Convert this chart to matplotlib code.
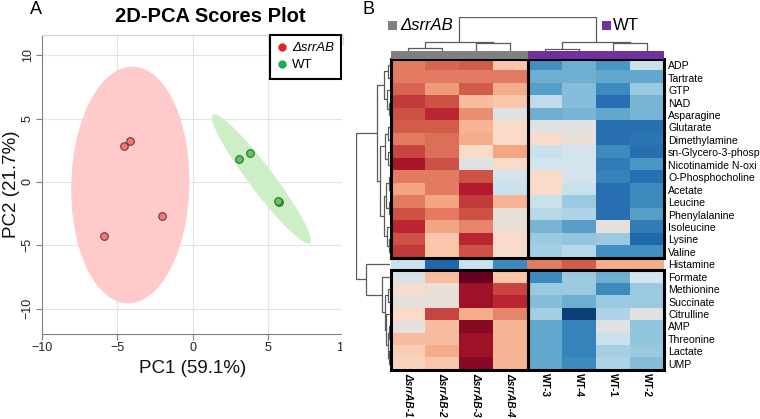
import numpy as np
import matplotlib
matplotlib.use('Agg')
import matplotlib.pyplot as plt
from matplotlib.colors import LinearSegmentedColormap
from matplotlib.patches import Rectangle
from matplotlib.lines import Line2D

plt.rcParams['font.family'] = ['Liberation Sans', 'DejaVu Sans']

# ---- PCA scores ----
mut_pc1 = [-4.53, -4.13, -2.0, -5.87]
mut_pc2 = [2.83, 3.2, -2.68, -4.3]
wt_pc1 = [3.07, 3.8, 5.73, 5.68]
wt_pc2 = [1.81, 2.28, -1.6, -1.5]

# ---- heatmap ----
samples = ['\u0394srrAB-1', '\u0394srrAB-2', '\u0394srrAB-3', '\u0394srrAB-4',
           'WT-3', 'WT-4', 'WT-1', 'WT-2']
metabolites = ['ADP', 'Tartrate', 'GTP', 'NAD', 'Asparagine', 'Glutarate',
               'Dimethylamine', 'sn-Glycero-3-phosp', 'Nicotinamide N-oxi',
               'O-Phosphocholine', 'Acetate', 'Leucine', 'Phenylalanine',
               'Isoleucine', 'Lysine', 'Valine', 'Histamine', 'Formate',
               'Methionine', 'Succinate', 'Citrulline', 'AMP', 'Threonine',
               'Lactate', 'UMP']
zscores = [
    [1.4, 1.6, 1.7, 0.6, -1.7, -1.3, -1.6, -0.4],
    [1.4, 1.4, 1.4, 1.4, -1.3, -1.3, -1.4, -1.4],
    [1.6, 1.1, 1.7, 0.9, -1.5, -1.1, -1.8, -0.9],
    [2.0, 1.8, 0.7, 0.6, -0.5, -1.1, -2.2, -1.2],
    [1.8, 2.2, 1.2, -0.1, -1.3, -1.2, -1.4, -1.2],
    [1.7, 1.7, 0.8, 0.3, -0.1, -0.1, -2.2, -2.2],
    [1.4, 1.5, 0.9, 0.3, 0.3, 0.05, -2.2, -2.1],
    [1.9, 1.5, 0.3, 1.0, -0.4, -0.3, -1.8, -2.2],
    [2.4, 1.8, -0.1, 0.3, -0.3, -0.3, -2.0, -1.6],
    [1.4, 1.4, 1.8, -0.3, 0.3, -0.3, -1.9, -2.2],
    [1.0, 1.4, 2.3, -0.4, 0.3, -0.4, -2.2, -1.8],
    [1.4, 1.0, 2.0, 0.8, -0.4, -0.9, -2.2, -1.8],
    [1.8, 1.4, 1.8, 0.0, -0.6, -0.7, -2.2, -1.5],
    [2.2, 1.0, 1.3, 0.05, -1.2, -1.5, 0.0, -2.0],
    [1.8, 0.6, 2.2, 0.3, -0.9, -1.0, -0.9, -2.3],
    [2.0, 0.6, 1.8, 0.2, -0.8, -0.6, -1.7, -1.7],
    [-0.4, -2.3, -0.4, -1.8, 1.4, 1.7, 0.9, 0.9],
    [-0.2, 0.7, 3.0, 0.6, -1.8, -0.9, -1.3, -0.3],
    [0.2, 0.05, 2.5, 1.9, -0.9, -0.9, -1.8, -0.9],
    [0.0, 0.0, 2.5, 2.2, -1.1, -1.3, -0.9, -0.9],
    [0.3, 1.9, 0.9, 1.3, -0.8, -2.8, -0.7, -0.1],
    [0.0, 0.7, 2.7, 0.8, -1.4, -1.9, -0.1, -1.0],
    [0.7, 0.7, 2.5, 0.8, -1.4, -1.9, -0.4, -1.0],
    [0.5, 0.9, 2.5, 0.8, -1.4, -1.9, -0.8, -0.9],
    [0.4, 0.6, 2.7, 0.8, -1.4, -1.8, -0.7, -1.1],
]

# dendrograms as (left, right, merge height)
row_tree = ((((0, 1, 2.5), (2, (3, 4, 1.5), 3.5), 6),
             (((5, 6, 2), (7, 8, 2), 5),
              (((9, 10, 1.5), (11, 12, 1.5), 4), (13, (14, 15, 1.5), 3), 6), 10), 13),
            (16, (17, ((18, 19, 2), (20, ((21, 22, 1), (23, 24, 1), 2.5), 4), 5.5), 8), 24),
            34)
col_tree = (((0, 1, 3), (2, 3, 8), 9), ((4, 5, 2), (6, 7, 8), 9), 34)

W, H = 760, 419
fig = plt.figure(figsize=(W / 100, H / 100), dpi=100)


def px_axes(x0, y0, x1, y1, z=0):
    a = fig.add_axes([x0 / W, 1 - y1 / H, (x1 - x0) / W, (y1 - y0) / H])
    a.set_zorder(z)
    return a


def conf_ellipse(x, y, n=200):
    x = np.asarray(x); y = np.asarray(y)
    vals, vecs = np.linalg.eigh(np.cov(x, y))
    t = np.linspace(0, 2 * np.pi, n)
    circ = np.vstack([np.cos(t), np.sin(t)])
    pts = vecs @ (np.sqrt(vals * 5.991)[:, None] * circ)
    return pts[0] + x.mean(), pts[1] + y.mean()


# ---------------- panel A ----------------
ax = px_axes(42, 35, 343, 334)
ex, ey = conf_ellipse(mut_pc1, mut_pc2)
ax.fill(ex, ey, color='#FFCACA', lw=0, zorder=1)
ex, ey = conf_ellipse(wt_pc1, wt_pc2)
ax.fill(ex, ey, color='#CDEFC6', lw=0, zorder=1)
ax.scatter(mut_pc1, mut_pc2, s=30, c='#E97A7A', edgecolors='#7a3535', linewidths=0.8, zorder=3)
ax.scatter(wt_pc1, wt_pc2, s=30, c='#5DC65D', edgecolors='#2d6a2d', linewidths=0.8, zorder=3)
ax.set_xlim(-10, 10)
ax.set_ylim(-12, 11.6)
ticks = [-10, -5, 0, 5, 10]
ax.set_xticks(ticks)
ax.set_yticks(ticks)
ax.grid(True, color='#E3E3E3', lw=0.8, zorder=0)
ax.set_axisbelow(True)
for s in ['left', 'bottom']:
    ax.spines[s].set_color('#808080')
for s in ['top', 'right']:
    ax.spines[s].set_color('#D5D5D5')
ax.tick_params(colors='#808080', labelcolor='#222222', labelsize=9, length=4, pad=2)
for lab in ax.get_yticklabels():
    lab.set_rotation(90)
    lab.set_va('center')
ax.set_xlabel('PC1 (59.1%)', fontsize=13.5, color='#111111', labelpad=4)
ax.set_ylabel('PC2 (21.7%)', fontsize=13.5, color='#111111', labelpad=1)
handles = [Line2D([], [], ls='', marker='o', ms=6, mfc='#EE1C25', mec='none'),
           Line2D([], [], ls='', marker='o', ms=6, mfc='#1AAE50', mec='none')]
leg = ax.legend(handles, ['\u0394srrAB', 'WT'], loc='upper right', bbox_to_anchor=(0.995, 1.0),
                borderaxespad=0, fontsize=9.5, handlelength=0.7, handletextpad=0.4,
                borderpad=0.55, labelspacing=0.35, fancybox=False, framealpha=1)
leg.get_frame().set_edgecolor('black')
leg.get_frame().set_linewidth(1.5)
leg.get_texts()[0].set_style('italic')
fig.text(210 / W, 1 - 17 / H, '2D-PCA Scores Plot', ha='center', va='center',
         fontsize=14.5, fontweight='bold')
fig.text(36 / W, 1 - 9 / H, 'A', ha='center', va='center', fontsize=13)
fig.text(368 / W, 1 - 9 / H, 'B', ha='center', va='center', fontsize=13)

# ---------------- panel B ----------------
# panel B sits over the right edge of panel A
fig.add_artist(Rectangle((342 / W, 0), 1 - 342 / W, 1 - 45 / H, transform=fig.transFigure,
                         fc='white', ec='none', zorder=0.5))

rdbu = ['#053061', '#2166AC', '#4393C3', '#92C5DE', '#D1E5F0',
        '#FDDBC7', '#F4A582', '#D6604D', '#B2182B', '#67001F']
cmap = LinearSegmentedColormap.from_list('rdbu10', rdbu)
vals = np.array(zscores)
nrow, ncol = vals.shape

axh = px_axes(391, 59, 664, 370, z=1)
axh.imshow(vals, cmap=cmap, vmin=-3, vmax=3, aspect='auto', interpolation='nearest',
           extent=(0, ncol, nrow, 0))
axh.set_xlim(0, ncol)
axh.set_ylim(nrow, 0)
for s in axh.spines.values():
    s.set_visible(False)
axh.set_xticks(np.arange(ncol) + 0.5)
axh.set_xticklabels(samples, rotation=-90, fontsize=7.2, fontweight='bold', va='top')
for lab in axh.get_xticklabels():
    if lab.get_text().startswith('\u0394'):
        lab.set_style('italic')
axh.yaxis.tick_right()
axh.set_yticks(np.arange(nrow) + 0.5)
axh.set_yticklabels(metabolites, fontsize=7.6)
axh.tick_params(axis='y', length=0, pad=3)
axh.tick_params(axis='x', length=0, pad=2)

n_mut = sum(1 for s in samples if s.startswith('\u0394'))
hist = metabolites.index('Histamine')
for r0, r1 in [(0, hist), (hist + 1, nrow)]:
    for c0, c1 in [(0, n_mut), (n_mut, ncol)]:
        axh.add_patch(Rectangle((c0, r0), c1 - c0, r1 - r0, fc='none', ec='black',
                                lw=2.2, clip_on=False, zorder=4))

# group colour bar
axb = px_axes(391, 51, 664, 59, z=1)
group_cols = ['#808080' if s.startswith('\u0394') else '#7030A0' for s in samples]
for i, c in enumerate(group_cols):
    axb.add_patch(Rectangle((i, 0), 1, 1, fc=c, ec='none'))
axb.set_xlim(0, ncol)
axb.set_ylim(0, 1)
axb.axis('off')


def draw_tree(node, ax, horizontal):
    # returns (leaf-axis position, height)
    if isinstance(node, int):
        return node + 0.5, 0
    left, right, h = node
    p1, h1 = draw_tree(left, ax, horizontal)
    p2, h2 = draw_tree(right, ax, horizontal)
    a = [h1, h, h, h2]
    b = [p1, p1, p2, p2]
    if horizontal:
        ax.plot(b, a, color='#5a5a5a', lw=0.9, solid_capstyle='butt')
    else:
        ax.plot(a, b, color='#5a5a5a', lw=0.9, solid_capstyle='butt')
    return (p1 + p2) / 2, h


axt = px_axes(391, 17, 664, 51, z=1)
draw_tree(col_tree, axt, True)
axt.set_xlim(0, ncol)
axt.set_ylim(0, 34)
axt.axis('off')

axr = px_axes(356, 59, 390, 370, z=1)
draw_tree(row_tree, axr, False)
axr.set_xlim(34, 0)
axr.set_ylim(nrow, 0)
axr.axis('off')

# group legend
fig.add_artist(Rectangle((388 / W, 1 - 30 / H), 9 / W, 9 / H, transform=fig.transFigure,
                         fc='#808080', ec='none'))
fig.text(400 / W, 1 - 25 / H, '\u0394srrAB', style='italic', fontsize=12, va='center')
fig.add_artist(Rectangle((602 / W, 1 - 30 / H), 9 / W, 9 / H, transform=fig.transFigure,
                         fc='#7030A0', ec='none'))
fig.text(613 / W, 1 - 25 / H, 'WT', fontsize=12, va='center')

fig.savefig('out.png', dpi=100)
